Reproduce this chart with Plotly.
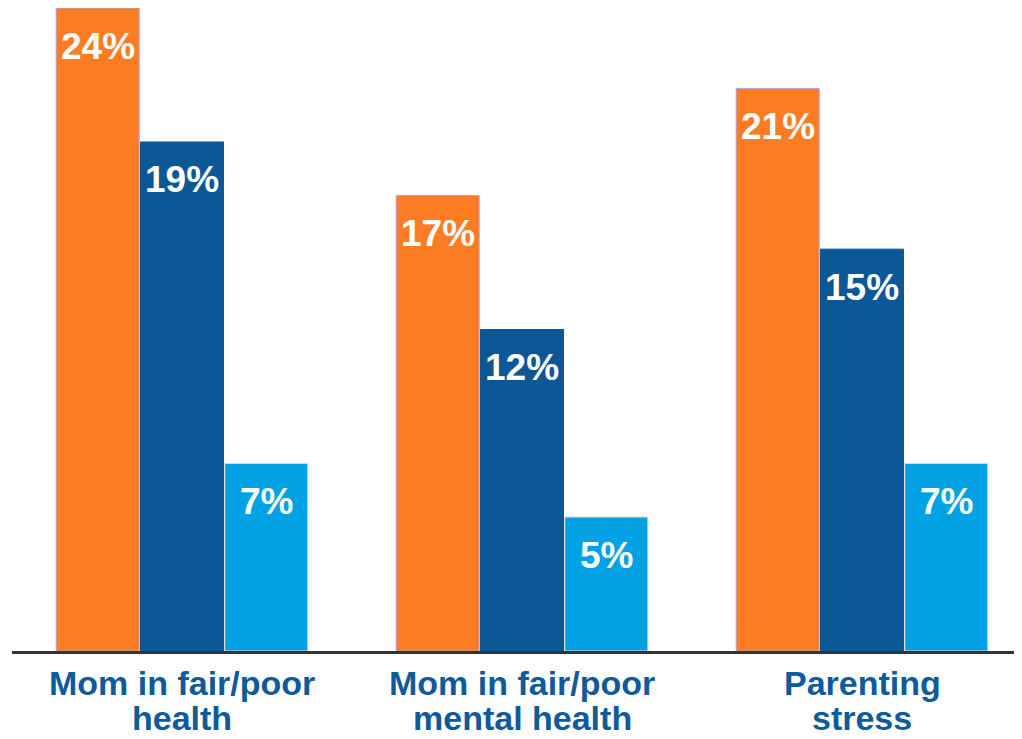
import plotly.graph_objects as go

categories = ["Mom in fair/poor<br>health", "Mom in fair/poor<br>mental health", "Parenting<br>stress"]
series_names = ["Group A", "Group B", "Group C"]
values_a = [24, 17, 21]
values_b = [19, 12, 15]
values_c = [7, 5, 7]
series_values = [values_a, values_b, values_c]
bar_colors = ["#FC7C24", "#0C5896", "#00A2E4"]
edge_colors = ["#B7A0D6", "#0C5896", "#E6D6BE"]

# page body has an 8px margin, so the figure is drawn 8px in and down
W, H = 1014, 731
ml, mr, mt, mb = 4, 0, 0, 88
cat_px = 340.0
plot_w = W - ml - mr
x_range = [-0.5, -0.5 + plot_w / cat_px]
bargap = 0.256
bargroupgap = 0.016
slot_px = cat_px * (1 - bargap) / 3

fig = go.Figure()
for name, vals, col, ec in zip(series_names, series_values, bar_colors, edge_colors):
    fig.add_trace(go.Bar(
        x=categories, y=vals, name=name,
        marker=dict(color=col, line=dict(color=ec, width=1)),
        hoverinfo="skip",
    ))

# value labels inside bars
for i, vals in enumerate(series_values):
    for cat, v in zip(categories, vals):
        fig.add_annotation(
            x=cat, y=v, xref="x", yref="y",
            text=f"{v}%", showarrow=False,
            xshift=(i - 1) * slot_px, yshift=-38,
            yanchor="middle", xanchor="center",
            font=dict(family="Liberation Sans", size=37, color="white", weight="bold"),
        )

# category labels (two lines each, tight spacing)
for cat in categories:
    lines = cat.split("<br>")
    for j, ln in enumerate(lines):
        fig.add_annotation(
            x=cat, y=0, xref="x", yref="y",
            text=ln, showarrow=False,
            yshift=-32 - 35 * j, yanchor="middle", xanchor="center",
            font=dict(family="Liberation Sans", size=34, color="#0E5A9A", weight="bold"),
        )

fig.update_layout(
    width=W, height=H,
    margin=dict(l=ml, r=mr, t=mt, b=mb, pad=0),
    paper_bgcolor="white", plot_bgcolor="white",
    barmode="group", bargap=bargap, bargroupgap=bargroupgap,
    showlegend=False,
    xaxis=dict(range=x_range, showticklabels=False, ticks="", showgrid=False,
               showline=True, linewidth=3, linecolor="#333333", zeroline=False),
    yaxis=dict(range=[0, 24], visible=False, showgrid=False, zeroline=False),
)

fig.write_html("out.html")
